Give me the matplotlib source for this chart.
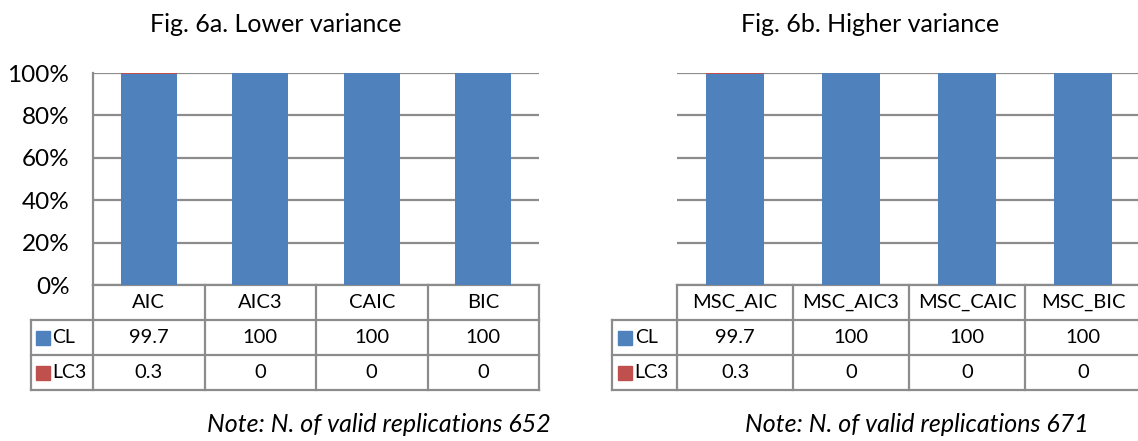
import matplotlib.pyplot as plt
import numpy as np

plt.rcParams['font.family'] = ['Lato', 'DejaVu Sans']

outputFile = "out.png"
barBlue = '#4F81BD'
barRed = '#C0504D'
gridColour = '#8c8c8c'

seriesNames = ["CL", "LC3"]
seriesColours = [barBlue, barRed]

lowerCategories = ["AIC", "AIC3", "CAIC", "BIC"]
lowerCL = [99.7, 100, 100, 100]
lowerLC3 = [0.3, 0, 0, 0]

higherCategories = ["MSC_AIC", "MSC_AIC3", "MSC_CAIC", "MSC_BIC"]
higherCL = [99.7, 100, 100, 100]
higherLC3 = [0.3, 0, 0, 0]

yTicks = [0, 20, 40, 60, 80, 100]
yTickLabels = ["0%", "20%", "40%", "60%", "80%", "100%"]

figW, figH = 1138, 441


def pixelAxes(fig, left, top, right, bottom):
    """Add axes placed by pixel edges (origin top-left)."""
    return fig.add_axes([left / figW, 1 - bottom / figH, (right - left) / figW, (bottom - top) / figH])


def stackedPanel(ax, categories, cl, lc3, showYLabels):
    """
    100% stacked columns with an Excel style data table underneath.
    """
    x = np.arange(len(categories))
    total = np.array(cl) + np.array(lc3)
    clPct = 100 * np.array(cl) / total
    lc3Pct = 100 * np.array(lc3) / total
    ax.bar(x, clPct, width=0.5, color=barBlue, zorder=3)
    ax.bar(x, lc3Pct, width=0.5, bottom=clPct, color=barRed, zorder=3)

    ax.set_xlim(-0.5, len(categories) - 0.5)
    ax.set_ylim(0, 100)
    ax.set_yticks(yTicks)
    ax.yaxis.grid(True, color=gridColour, linewidth=1.6, zorder=0)
    ax.set_xticks([])
    ax.tick_params(axis='y', length=0, pad=17, labelsize=17.5)
    if showYLabels:
        ax.set_yticklabels(yTickLabels)
        ax.spines['left'].set_color(gridColour)
        ax.spines['left'].set_linewidth(1.6)
    else:
        ax.set_yticklabels([])
        ax.spines['left'].set_visible(False)
    ax.spines[['right', 'top']].set_visible(False)
    ax.spines['bottom'].set_color(gridColour)
    ax.spines['bottom'].set_linewidth(1.6)

    # data table below the plot, x in data units, y in axes fraction
    trans = ax.get_xaxis_transform()
    rowH = 35 / 212
    labelW = 0.56
    n = len(categories)
    xLeft = -0.5 - labelW
    line = dict(color=gridColour, linewidth=1.6, transform=trans, clip_on=False)

    for i in range(n + 1):
        ax.plot([i - 0.5, i - 0.5], [0, -3 * rowH], **line)
    ax.plot([xLeft, xLeft], [-rowH, -3 * rowH], **line)
    ax.plot([xLeft, n - 0.5], [-rowH, -rowH], **line)
    ax.plot([xLeft, n - 0.5], [-2 * rowH, -2 * rowH], **line)
    ax.plot([xLeft, n - 0.5], [-3 * rowH, -3 * rowH], **line)

    for i, cat in enumerate(categories):
        ax.text(i, -0.5 * rowH, cat, ha='center', va='center', fontsize=14.5, transform=trans, clip_on=False)
    rows = [cl, lc3]
    for r, (name, colour, values) in enumerate(zip(seriesNames, seriesColours, rows)):
        yMid = -(r + 1.5) * rowH
        ax.plot([-0.5 - 0.445], [yMid], marker='s', markersize=9.5, color=colour,
                transform=trans, clip_on=False, linestyle='none')
        ax.text(-0.5 - 0.365, yMid, name, ha='left', va='center', fontsize=14, transform=trans, clip_on=False)
        for i, v in enumerate(values):
            ax.text(i, yMid, f"{v:g}", ha='center', va='center', fontsize=14.5, transform=trans, clip_on=False)


def varianceFigure():
    """
    Make figure comparing lower and higher variance results.
    """
    fig = plt.figure(figsize=(figW / 100, figH / 100), dpi=100)

    axLow = pixelAxes(fig, 93, 73, 539, 285)
    stackedPanel(axLow, lowerCategories, lowerCL, lowerLC3, True)
    axHigh = pixelAxes(fig, 677, 73, 1141, 285)
    stackedPanel(axHigh, higherCategories, higherCL, higherLC3, False)

    fig.text(276 / figW, 1 - 25 / figH, "Fig. 6a. Lower variance", ha='center', va='center', fontsize=18)
    fig.text(870 / figW, 1 - 25 / figH, "Fig. 6b. Higher variance", ha='center', va='center', fontsize=18)
    fig.text(551 / figW, 1 - 425 / figH, "Note: N. of valid replications 652", ha='right', va='center',
             fontsize=18, style='italic')
    fig.text(1089 / figW, 1 - 425 / figH, "Note: N. of valid replications 671", ha='right', va='center',
             fontsize=18, style='italic')

    fig.savefig(outputFile, dpi=100)


if __name__ == "__main__":
    varianceFigure()
